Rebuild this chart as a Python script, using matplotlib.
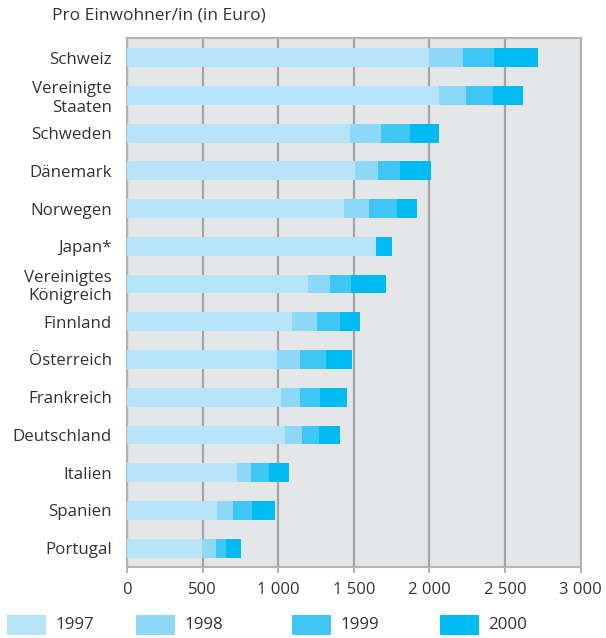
import numpy as np
import matplotlib.pyplot as plt
from matplotlib.patches import Rectangle

plt.rcParams['font.family'] = ['Open Sans', 'DejaVu Sans']

countries = ['Schweiz', 'Vereinigte\nStaaten', 'Schweden', 'Dänemark', 'Norwegen',
             'Japan*', 'Vereinigtes\nKönigreich', 'Finnland', 'Österreich',
             'Frankreich', 'Deutschland', 'Italien', 'Spanien', 'Portugal']
years = ['1997', '1998', '1999', '2000']

# Ausgaben pro Kopf je Jahr (Euro), None = kein Wert
v1997 = [1997, 2066, 1475, 1508, 1435, 1649, 1196, 1090, 991, 1018, 1045, 725, 593, 494]
v1998 = [2225, 2239, 1682, 1661, 1601, None, 1343, 1256, 1144, 1144, 1157, 818, 699, 587]
v1999 = [2426, 2418, 1868, 1807, 1787, None, 1482, 1409, 1316, 1276, 1270, 938, 825, 653]
v2000 = [2716, 2617, 2066, 2013, 1920, 1749, 1714, 1542, 1489, 1456, 1409, 1070, 978, 752]
colors = ['#b8e4f8', '#8ed8f7', '#40c6f4', '#00bbf2']

fig = plt.figure(figsize=(6.06, 6.38), dpi=100)
ax = fig.add_axes([127 / 606, 1 - 567 / 638, 453.7 / 606, 529 / 638])
ax.set_facecolor('#e5e6e8')

y = np.arange(len(countries))
left = np.zeros(len(countries))
for vals, col in zip([v1997, v1998, v1999, v2000], colors):
    arr = np.array([np.nan if v is None else v for v in vals], dtype=float)
    has = ~np.isnan(arr)
    ax.barh(y[has], arr[has] - left[has], left=left[has], height=0.5,
            color=col, zorder=3)
    left[has] = arr[has]

ax.set_xlim(0, 3000)
ax.set_ylim(len(countries) - 0.5, -0.52)
ax.set_xticks(np.arange(0, 3001, 500))
ax.set_xticklabels(['0', '500', '1 000', '1 500', '2 000', '2 500', '3 000'])
ax.set_yticks(y)
ax.set_yticklabels(countries, linespacing=1.2)
ax.grid(axis='x', color='#a3a3a3', lw=1.6, zorder=1)
ax.tick_params(axis='y', length=0, pad=11, labelsize=12.2, labelcolor='#333333')
ax.tick_params(axis='x', length=4, width=1.2, color='#a3a3a3', pad=7,
               labelsize=12, labelcolor='#333333')
for s in ax.spines.values():
    s.set_color('#b3b3b3')
    s.set_linewidth(1.5)

fig.text(52 / 606, 1 - 15 / 638, 'Pro Einwohner/in (in Euro)', fontsize=12.5,
         color='#333333', va='center', ha='left')

# Legende
for x0, lab, col in zip([7, 136, 292, 440], years, colors):
    fig.add_artist(Rectangle((x0 / 606, 1 - 635 / 638), 39 / 606, 20 / 638,
                             transform=fig.transFigure, color=col, lw=0))
    fig.text((x0 + 48) / 606, 1 - 625 / 638, lab, fontsize=12.2, color='#333333',
             va='center', ha='left')

fig.savefig('out.png', dpi=100)
